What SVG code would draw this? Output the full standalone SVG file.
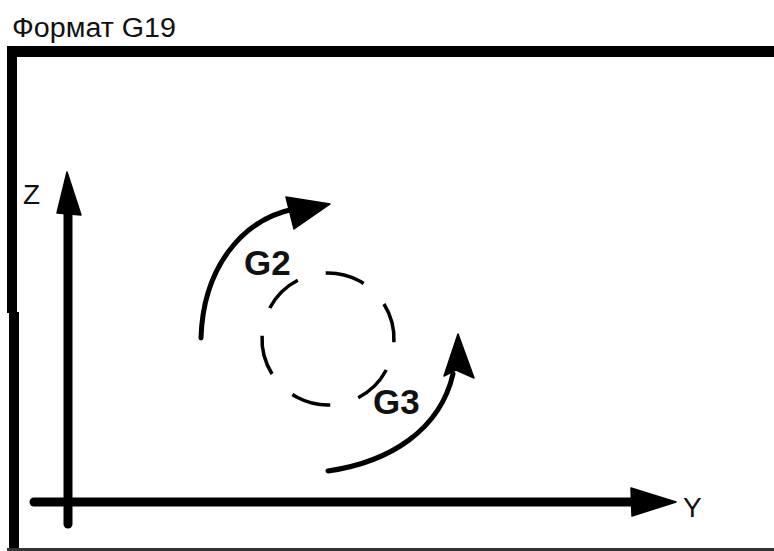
<svg xmlns="http://www.w3.org/2000/svg" width="774" height="551" viewBox="0 0 774 551">
<style>
.lbl{font-family:"Liberation Sans",Arial,sans-serif;fill:#111}
.bold{font-weight:bold}
.line{fill:none;stroke:#000;stroke-linecap:round}
.head{fill:#000;stroke:#000;stroke-width:1.5;stroke-linejoin:round}
</style>
<rect width="774" height="551" fill="#fff"/>
<g id="title"><text class="lbl" x="12" y="37" font-size="27" textLength="164" lengthAdjust="spacingAndGlyphs">Формат G19</text></g>
<g id="frame">
<rect x="7" y="46" width="767" height="11" fill="#000"/>
<rect x="7" y="46" width="10" height="267" fill="#000"/>
<rect x="9" y="312" width="10" height="239" fill="#000"/>
<rect x="7" y="548" width="767" height="3" fill="#333"/>
</g>
<g id="connectors">
<g id="axis-z">
<line class="line" x1="68" y1="205" x2="68" y2="524" stroke-width="9"/>
<polygon class="head" points="67,172 81,215 57,213"/>
</g>
<g id="axis-y">
<line class="line" x1="34" y1="502" x2="640" y2="502" stroke-width="9"/>
<polygon class="head" points="676,502 632,516 631,488"/>
</g>
<g id="arc-g2">
<path class="line" d="M201,338 C203,270 240,220 294,209" stroke-width="5"/>
<polygon class="head" points="286,197 330,204 294,229"/>
</g>
<g id="arc-g3">
<path class="line" d="M328,471 C390,462 440,430 453,374" stroke-width="5"/>
<polygon class="head" points="458,334 474,378 456,370 444,376"/>
</g>
</g>
<g id="circle">
<circle cx="328" cy="339" r="66" fill="none" stroke="#000" stroke-width="3.5" stroke-dasharray="40 29" transform="rotate(-152 328 339)"/>
</g>
<g id="label-z"><text class="lbl" x="23" y="204" font-size="28">Z</text></g>
<g id="label-y"><text class="lbl" x="683" y="517" font-size="28">Y</text></g>
<g id="label-g2"><text class="lbl bold" x="244" y="275" font-size="35">G2</text></g>
<g id="label-g3"><text class="lbl bold" x="373" y="414" font-size="35">G3</text></g>
</svg>
